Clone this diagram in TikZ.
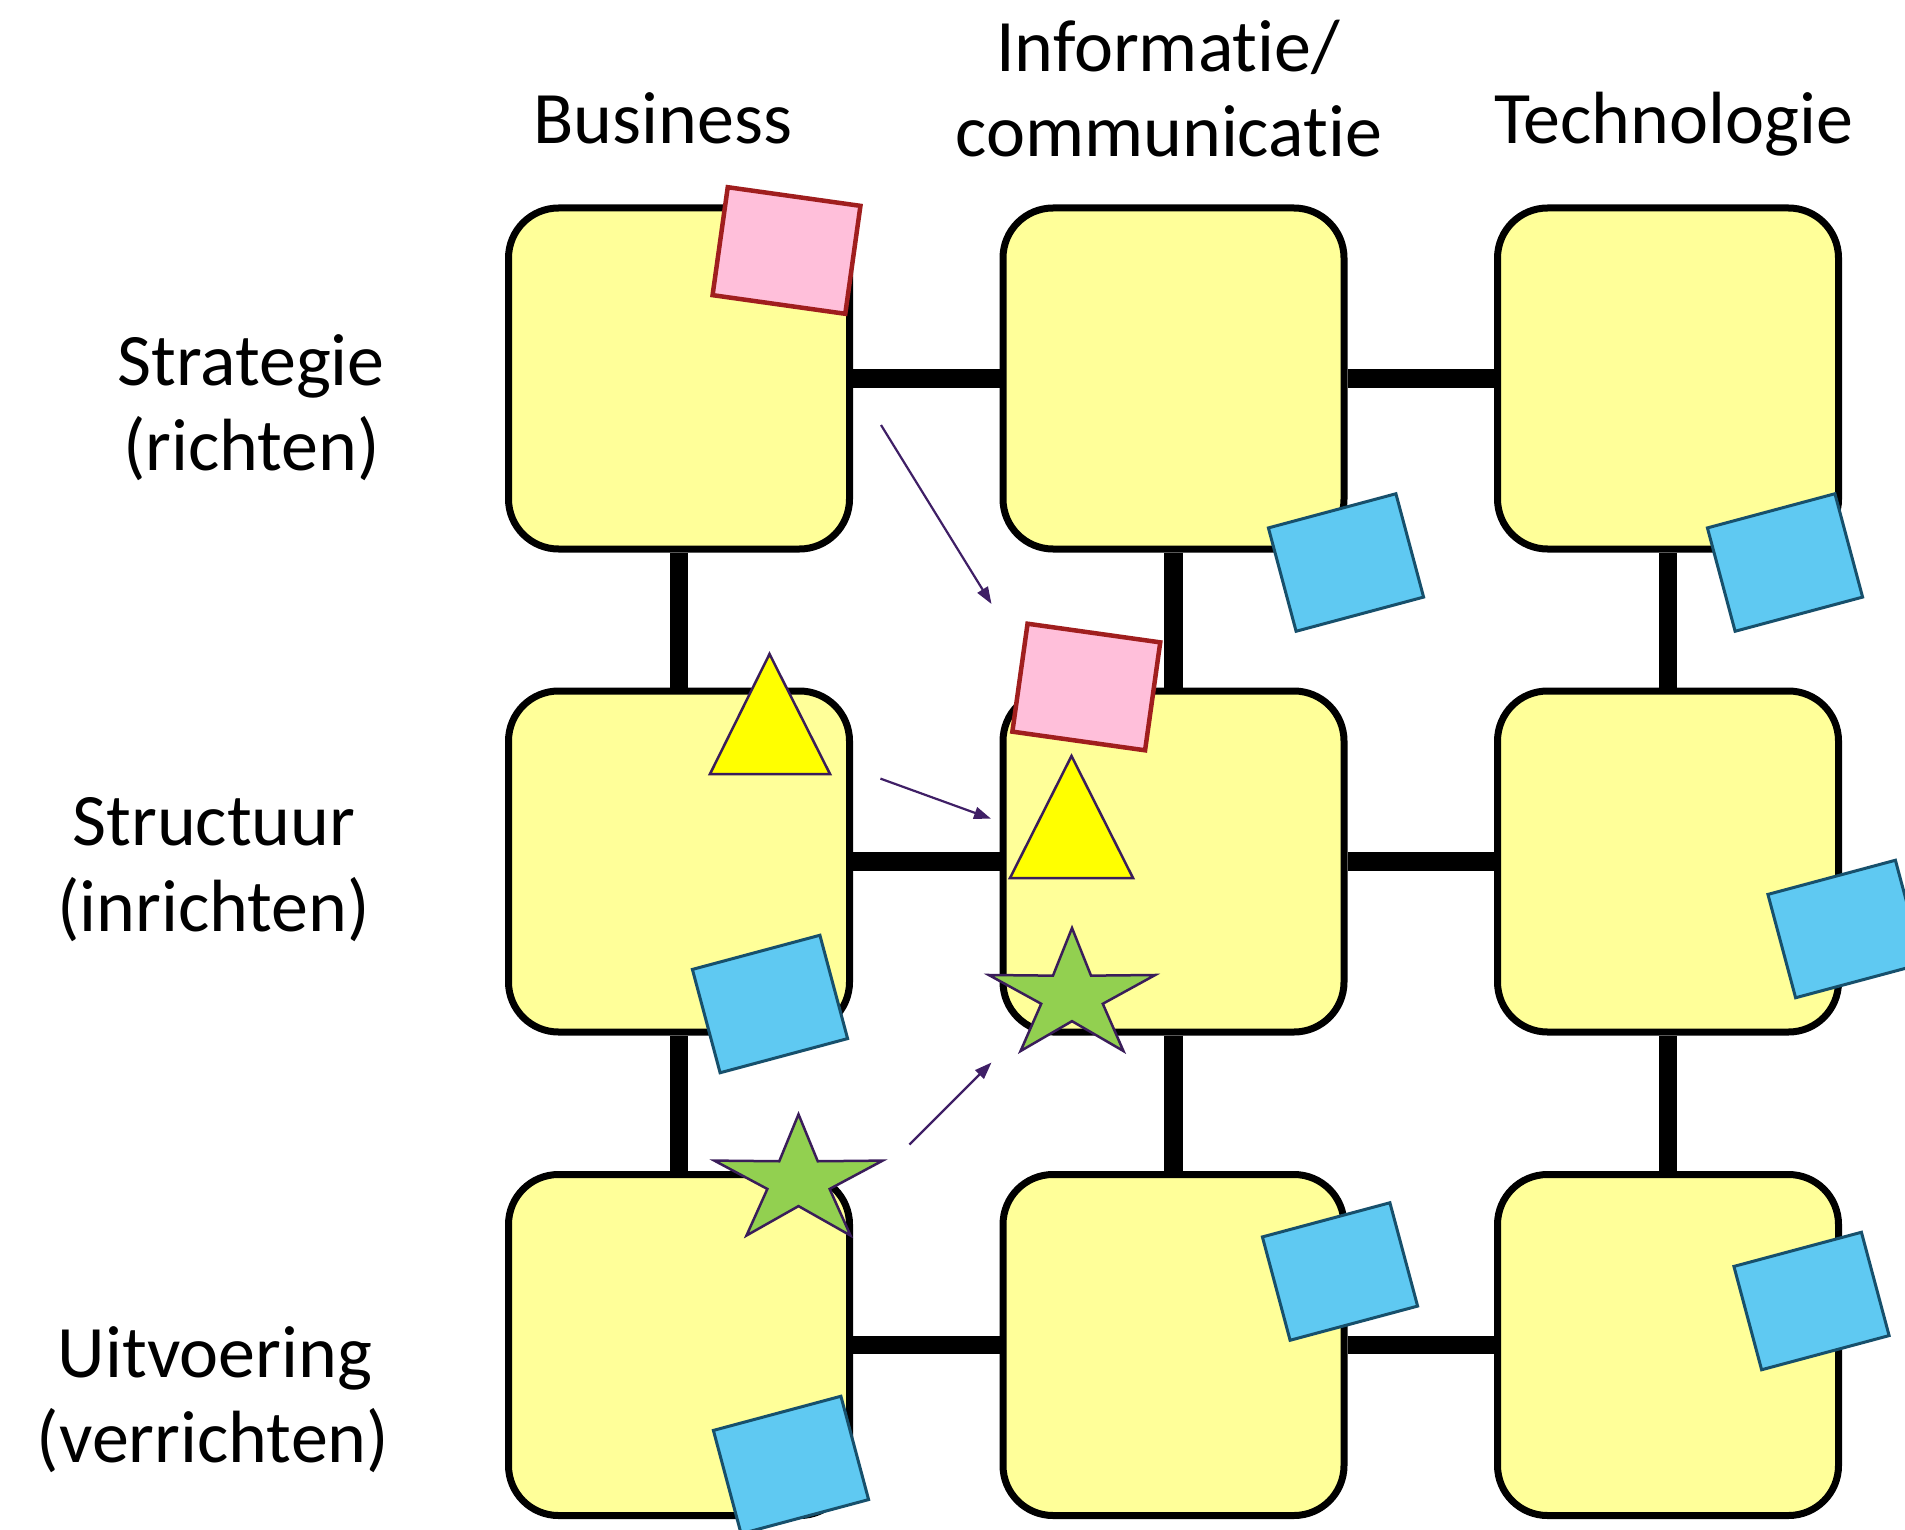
\documentclass[tikz,border=0pt]{standalone}
\usepackage{fontspec}
\setmainfont{Carlito}[Ligatures=NoCommon]
\usetikzlibrary{arrows.meta}
\definecolor{boxfill}{HTML}{FFFF99}
\definecolor{pinkfill}{HTML}{FFBFDA}
\definecolor{pinkline}{HTML}{A01E1E}
\definecolor{bluefill}{HTML}{5FC9F2}
\definecolor{blueline}{HTML}{17506C}
\definecolor{triyellow}{HTML}{FFFF00}
\definecolor{stargreen}{HTML}{92D050}
\definecolor{shapeline}{HTML}{3A1D5A}
\definecolor{arrowcol}{HTML}{3F1F66}
\begin{document}
\begin{tikzpicture}[x=1pt,y=1pt,
  cell/.style={draw=black, line width=7pt, fill=boxfill, rounded corners=50pt,
    minimum size=341pt, inner sep=0pt},
  conn/.style={line width=18.5pt, draw=black},
  pinknote/.style={draw=pinkline, fill=pinkfill, line width=4.5pt, minimum width=134pt,
    minimum height=109pt, inner sep=0pt, rotate=-8},
  bluenote/.style={draw=blueline, fill=bluefill, line width=3pt, minimum width=132pt,
    minimum height=107pt, inner sep=0pt, rotate=15},
  tri/.style={draw=shapeline, fill=triyellow, line width=2.5pt},
  starsty/.style={draw=shapeline, fill=stargreen, line width=2.5pt},
  flow/.style={draw=arrowcol, line width=2.2pt, -{Triangle[length=17pt,width=12pt]}},
  lbl/.style={font=\fontsize{74}{88}\selectfont, anchor=base, inner sep=0pt}
]
\useasboundingbox (0,0) rectangle (1905,-1530);
\clip (0,0) rectangle (1905,-1530);

% column headers
\node[lbl] (hbus) at (663,-143.3) {Business};
\node[lbl] (hinf1) at (1168,-71.7) {Informatie/};
\node[lbl] (hinf2) at (1168.7,-156.7) {communicatie};
\node[lbl] (htec) at (1673.6,-143.3) {Technologie};

% row headers
\node[lbl] (rstr1) at (251,-385) {Strategie};
\node[lbl] (rstr2) at (251.5,-470.7) {(richten)};
\node[lbl] (rsct1) at (214,-845) {Structuur};
\node[lbl] (rsct2) at (213.8,-931.7) {(inrichten)};
\node[lbl] (ruit1) at (215,-1377.7) {Uitvoering};
\node[lbl] (ruit2) at (213,-1462.7) {(verrichten)};

% grid cells
\node[cell] (b11) at (679,-378.5) {};
\node[cell] (b12) at (1173.5,-378.5) {};
\node[cell] (b13) at (1668,-378.5) {};
\node[cell] (b21) at (679,-861.5) {};
\node[cell] (b22) at (1173.5,-861.5) {};
\node[cell] (b23) at (1668,-861.5) {};
\node[cell] (b31) at (679,-1345) {};
\node[cell] (b32) at (1173.5,-1345) {};
\node[cell] (b33) at (1668,-1345) {};

% connectors
\draw[conn] (b11.east) -- (b12.west);
\draw[conn] (b12.east) -- (b13.west);
\draw[conn] (b21.east) -- (b22.west);
\draw[conn] (b22.east) -- (b23.west);
\draw[conn] (b31.east) -- (b32.west);
\draw[conn] (b32.east) -- (b33.west);
\draw[conn] (b11.south) -- (b21.north);
\draw[conn] (b12.south) -- (b22.north);
\draw[conn] (b13.south) -- (b23.north);
\draw[conn] (b21.south) -- (b31.north);
\draw[conn] (b22.south) -- (b32.north);
\draw[conn] (b23.south) -- (b33.north);

% blue notes
\node[bluenote] (n1) at (1346,-562.5) {};
\node[bluenote] (n2) at (1785,-562.5) {};
\node[bluenote] (n3) at (770,-1004) {};
\node[bluenote] (n4) at (1845.5,-929) {};
\node[bluenote] (n5) at (1340,-1271.5) {};
\node[bluenote] (n6) at (1811.5,-1301) {};
\node[bluenote] (n7) at (791,-1465) {};

% pink notes
\node[pinknote] (p1) at (786.5,-250.5) {};
\node[pinknote] (p2) at (1086.3,-687) {};

% triangles
\draw[tri] (710,-774) -- (769.5,-654) -- (830,-774) -- cycle;
\draw[tri] (1010,-878) -- (1071.5,-756) -- (1133,-878) -- cycle;

% stars
\begin{scope}[shift={(798.5,-1181.3)}, xscale=88.5, yscale=67]
\draw[starsty] (90:1) -- (54:0.37) -- (18:1) -- (-18:0.37) -- (-54:1) -- (-90:0.37)
  -- (-126:1) -- (-162:0.37) -- (162:1) -- (126:0.37) -- cycle;
\end{scope}
\begin{scope}[shift={(1072,-996)}, xscale=87.5, yscale=68]
\draw[starsty] (90:1) -- (54:0.37) -- (18:1) -- (-18:0.37) -- (-54:1) -- (-90:0.37)
  -- (-126:1) -- (-162:0.37) -- (162:1) -- (126:0.37) -- cycle;
\end{scope}

% arrows
\coordinate (a1s) at (881,-425);
\coordinate (a1e) at (991.5,-604);
\coordinate (a2s) at (880.4,-778.6);
\coordinate (a2e) at (991,-818.7);
\coordinate (a3s) at (909.4,-1144.6);
\coordinate (a3e) at (991.5,-1062.5);
\draw[flow] (a1s) -- (a1e);
\draw[flow] (a2s) -- (a2e);
\draw[flow] (a3s) -- (a3e);
\end{tikzpicture}
\end{document}
